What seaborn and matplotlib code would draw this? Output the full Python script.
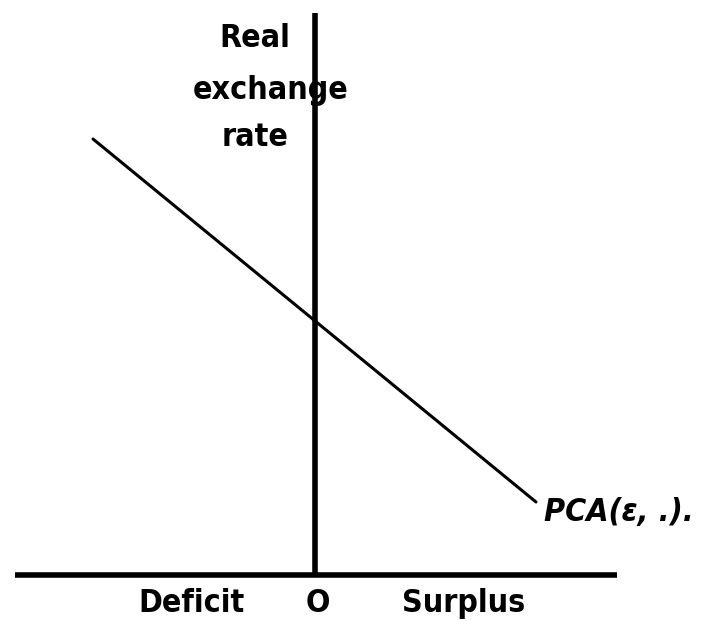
import matplotlib
matplotlib.use("Agg")
import matplotlib.pyplot as plt
from matplotlib import font_manager
from matplotlib.font_manager import FontProperties
import seaborn as sns
import pandas as pd

# Payments-on-current-account schedule against the real exchange rate
pca_balance = [-2.225, 2.205]
pca_rate = [4.355, 0.725]

# Axes of the diagram (balance axis and exchange-rate axis)
balance_axis_x = [-3.005, 3.015]
rate_axis_top = 5.615

y_axis_lines = ["Real", "exchange", "rate"]
x_labels = ["Deficit", "O", "Surplus"]
curve_label = "PCA(\u03b5, .)."

sns.set_theme(style="white")
plt.rcParams["font.family"] = ["Liberation Sans", "DejaVu Sans"]
plt.rcParams["text.color"] = "black"


def pick_narrow(italic=False):
    """Find an installed narrow/condensed bold sans face, if any."""
    best = None
    for f in font_manager.fontManager.ttflist:
        name = f.name.lower()
        fname = f.fname.lower()
        narrow = ("narrow" in name or "condensed" in name or "narrow" in fname
                  or "condensed" in fname or str(f.stretch) not in ("normal", "500", "400"))
        if not narrow:
            continue
        is_italic = f.style in ("italic", "oblique")
        if is_italic != italic:
            continue
        w = f.weight if isinstance(f.weight, int) else (700 if "bold" in str(f.weight) else 400)
        score = 0
        score += 10 if "liberation" in name else 0
        score += 6 if "dejavu" in name else 0
        score += 5 if w >= 700 else 0
        score -= 3 if w > 800 else 0
        if best is None or score > best[0]:
            best = (score, f.fname)
    return best[1] if best else None


narrow_upright = pick_narrow(False)
narrow_italic = pick_narrow(True) or narrow_upright

size = 23
if narrow_upright:
    fp = FontProperties(fname=narrow_upright, size=size)
    fp_it = FontProperties(fname=narrow_italic, size=size)
else:
    fp = FontProperties(family=["Liberation Sans", "DejaVu Sans"], weight="bold", size=size - 2)
    fp_it = FontProperties(family=["Liberation Sans", "DejaVu Sans"], weight="bold",
                           style="italic", size=size - 2)

fig = plt.figure(figsize=(7.22, 6.29), dpi=100)
ax = fig.add_axes([0, 0, 1, 1])
ax.set_xlim(-3.155, 4.065)
ax.set_ylim(-0.545, 5.745)
ax.axis("off")

curve = pd.DataFrame({"balance": pca_balance, "rate": pca_rate})
sns.lineplot(data=curve, x="balance", y="rate", ax=ax, color="black",
             linewidth=2.2, estimator=None, sort=False)

axis_h = pd.DataFrame({"balance": balance_axis_x, "rate": [0, 0]})
sns.lineplot(data=axis_h, x="balance", y="rate", ax=ax, color="black",
             linewidth=4, estimator=None, sort=False, solid_capstyle="butt")
axis_v = pd.DataFrame({"balance": [0, 0], "rate": [0, rate_axis_top]})
sns.lineplot(data=axis_v, x="balance", y="rate", ax=ax, color="black",
             linewidth=4, estimator=None, sort=False, solid_capstyle="butt")

ax.set_xlabel("")
ax.set_ylabel("")

ylab_pos = [(-0.61, 5.36), (-0.45, 4.84), (-0.6, 4.37)]
for txt, (x, y) in zip(y_axis_lines, ylab_pos):
    ax.text(x, y, txt, ha="center", va="center", fontproperties=fp, color="black")

xlab_pos = [(-1.235, -0.29), (0.02, -0.29), (1.485, -0.29)]
for txt, (x, y) in zip(x_labels, xlab_pos):
    ax.text(x, y, txt, ha="center", va="center", fontproperties=fp, color="black")

ax.text(2.29, 0.62, curve_label, ha="left", va="center", fontproperties=fp_it,
        color="black")

fig.savefig("out.png", dpi=100)
